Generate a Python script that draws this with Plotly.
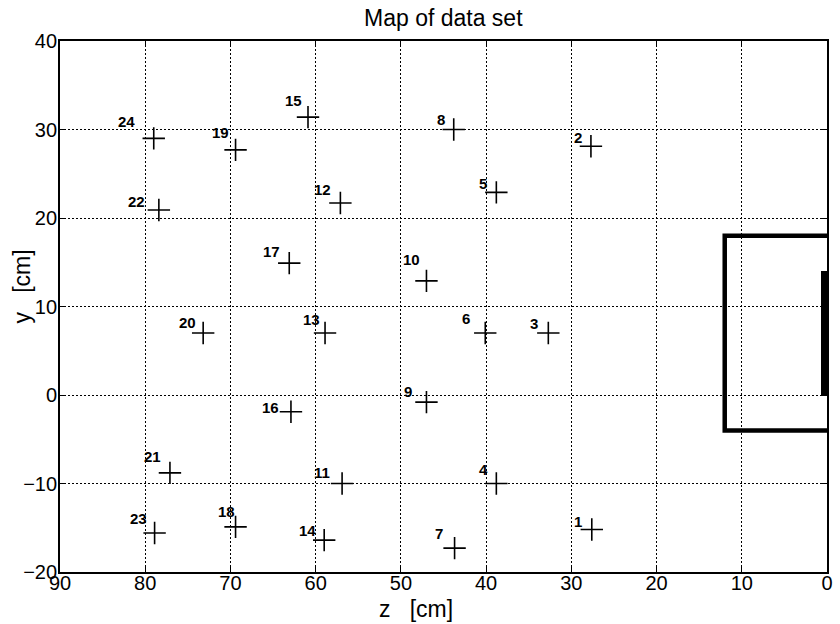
import plotly.graph_objects as go

# Measurement positions (z, y) in cm, numbered 1..24
point_ids = list(range(1, 25))
z_cm = [27.6, 27.7, 32.7, 38.8, 38.8, 40.1, 43.7, 43.8, 47.0, 47.0, 56.9, 57.1,
        58.9, 59.0, 60.9, 62.9, 63.1, 69.4, 69.4, 73.2, 77.1, 78.4, 78.9, 79.0]
y_cm = [-15.2, 28.1, 7.0, -10.0, 22.9, 7.0, -17.3, 30.0, -0.8, 12.9, -10.0, 21.7,
        7.0, -16.4, 31.4, -1.9, 14.9, -14.9, 27.7, 7.0, -8.8, 20.9, -15.6, 29.0]

# Outline of the box on the right edge and the thick plate at z = 0
box_z = [0, 12, 12, 0]
box_y = [18, 18, -4, -4]
plate_z = [0, 0]
plate_y = [0, 14]

# Pixel offsets of each number label relative to its marker (dx, dy; dy down)
label_offsets = [(-14, -8), (-13, -9), (-14, -10), (-13, -14), (-13, -9), (-19, -15),
                 (-16, -15), (-13, -10), (-18, -11), (-15, -21), (-20, -11), (-18, -13),
                 (-14, -14), (-17, -10), (-15, -17), (-20, -4), (-18, -12), (-9, -15),
                 (-15, -17), (-16, -11), (-17, -16), (-22, -9), (-16, -15), (-27, -17)]

FONT = "Liberation Sans, Arial, Helvetica, sans-serif"
W, H = 840, 624
ML, MR, MT, MB = 60, 7, 41, 52

fig = go.Figure()

fig.add_trace(go.Scatter(
    x=box_z, y=box_y, mode="lines",
    line=dict(color="black", width=4.5),
    hoverinfo="skip", showlegend=False,
))
fig.add_trace(go.Scatter(
    x=plate_z, y=plate_y, mode="lines",
    line=dict(color="black", width=12),
    hoverinfo="skip", showlegend=False,
))
fig.add_trace(go.Scatter(
    x=z_cm, y=y_cm, mode="markers",
    marker=dict(symbol="cross-thin", size=16, color="black",
                line=dict(color="black", width=1.6)),
    showlegend=False,
))

annotations = []
for pid, zv, yv, (dx, dy) in zip(point_ids, z_cm, y_cm, label_offsets):
    annotations.append(dict(
        x=zv, y=yv, xref="x", yref="y", text=str(pid), showarrow=False,
        xshift=dx, yshift=-dy, xanchor="center", yanchor="middle",
        font=dict(family=FONT, size=15, color="black", weight="bold"),
    ))

plot_w = W - ML - MR
plot_h = H - MT - MB

# Title
annotations.append(dict(
    text="Map of data set", xref="paper", yref="paper", x=0.5, y=1,
    yshift=41 - 18, xanchor="center", yanchor="middle", showarrow=False,
    font=dict(family=FONT, size=23, color="black"),
))
# Axis labels
annotations.append(dict(
    text="z\u00a0\u00a0\u00a0[cm]", xref="paper", yref="paper",
    x=(379 - ML) / plot_w, y=0, yshift=-(609 - (H - MB)),
    xanchor="left", yanchor="middle", showarrow=False,
    font=dict(family=FONT, size=23, color="black"),
))
annotations.append(dict(
    text="y\u00a0\u00a0\u00a0[cm]", xref="paper", yref="paper",
    x=0, xshift=21 - ML, y=((H - MB) - 286.5) / plot_h,
    xanchor="center", yanchor="middle", textangle=-90, showarrow=False,
    font=dict(family=FONT, size=23, color="black"),
))

axis_common = dict(
    showline=True, linecolor="black", linewidth=1.8, mirror="allticks",
    ticks="inside", ticklen=6, tickwidth=1.2, tickcolor="black",
    showgrid=True, gridcolor="black", gridwidth=1, griddash="2px,2px",
    zeroline=False, tickfont=dict(family=FONT, size=20, color="black"),
)

fig.update_layout(
    width=W, height=H,
    margin=dict(l=ML, r=MR, t=MT, b=MB),
    paper_bgcolor="white", plot_bgcolor="white",
    xaxis=dict(range=[90, 0], tickmode="linear", tick0=0, dtick=10,
               ticklabelstandoff=-8, **axis_common),
    yaxis=dict(range=[-20, 40], tickmode="linear", tick0=0, dtick=10,
               ticklabelstandoff=-3, **axis_common),
    annotations=annotations,
)

fig.write_html("out.html")
